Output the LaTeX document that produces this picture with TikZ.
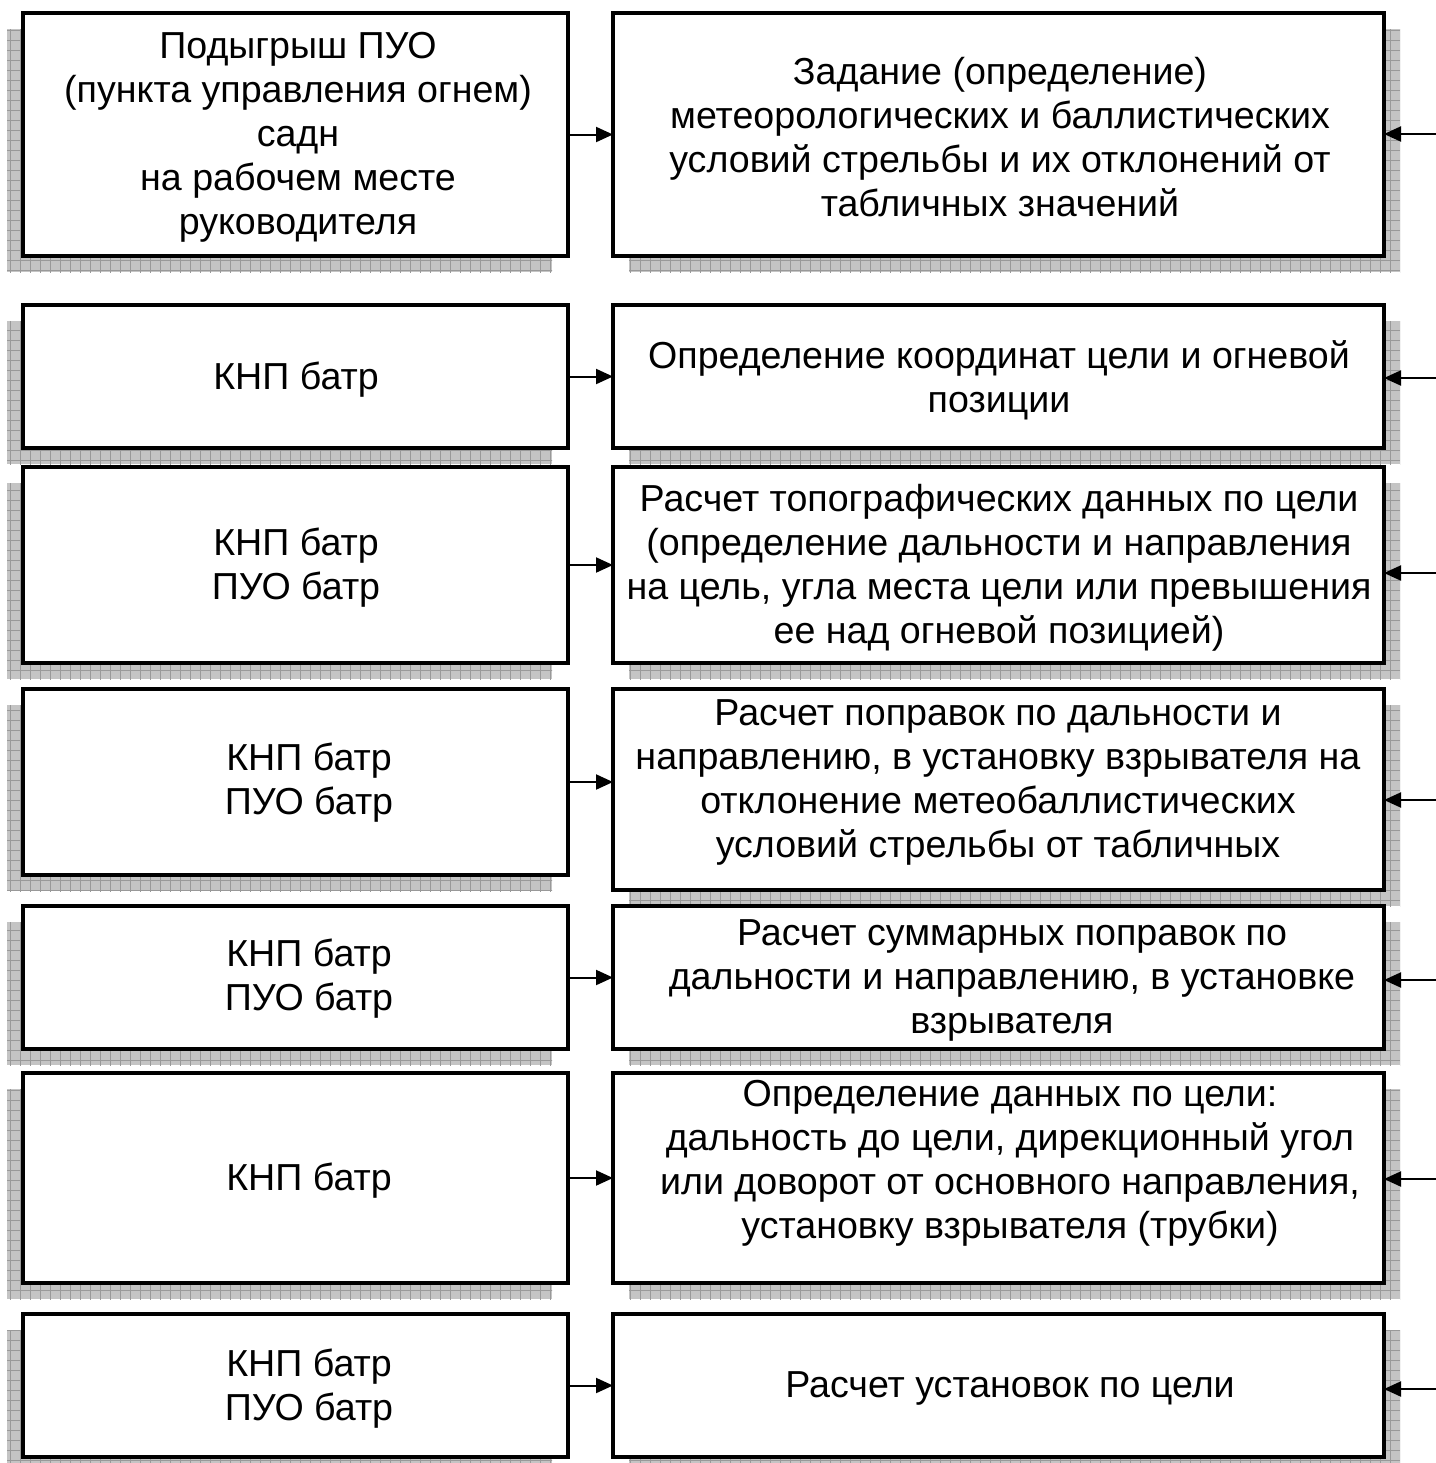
\documentclass[tikz,border=0pt]{standalone}
\usepackage{fontspec}
\setmainfont{Liberation Sans}
\usetikzlibrary{arrows.meta}
\tikzset{
  boxst/.style={draw=black, line width=1.75pt, fill=white, rectangle, inner sep=0pt, outer sep=0pt},
  txt/.style={align=center, font=\fontsize{18.8}{22}\selectfont, inner sep=0pt},
  shadowfill/.style={fill=black!23},
  gridc/.style={draw=black!40, line width=0.4pt},
  conn/.style={line width=1pt, -{Triangle[length=8.5pt,width=7.5pt]}}
}
% name, x1, y1, x2, y2, shadow dx
\newcommand\mkbox[6]{%
  \begin{scope}
    \clip ({#2+#6},{#3+16}) rectangle ({#4+#6},{#5+16});
    \fill[shadowfill] ({#2+#6},{#3+16}) rectangle ({#4+#6},{#5+16});
    \draw[gridc, step=5pt] (0,0) grid (1440,1470);
  \end{scope}
  \node[boxst, minimum width={(#4-#2)*0.5pt}, minimum height={(#5-#3)*0.5pt}] (#1) at ({(#2+#4)/2},{(#3+#5)/2}) {};
}
\begin{document}
\begin{tikzpicture}[x=0.5pt, y=-0.5pt]
\useasboundingbox (0,0) rectangle (1436,1463);
\mkbox{L1}{23}{13}{568}{256}{-16}
\mkbox{R1}{613}{13}{1384}{256}{16}
\mkbox{L2}{23}{305}{568}{448}{-16}
\mkbox{R2}{613}{305}{1384}{448}{16}
\mkbox{L3}{23}{467}{568}{663}{-16}
\mkbox{R3}{613}{467}{1384}{663}{16}
\mkbox{L4}{23}{689}{568}{875}{-16}
\mkbox{R4}{613}{689}{1384}{890}{16}
\mkbox{L5}{23}{906}{568}{1049}{-16}
\mkbox{R5}{613}{906}{1384}{1049}{16}
\mkbox{L6}{23}{1073}{568}{1283}{-16}
\mkbox{R6}{613}{1073}{1384}{1283}{16}
\mkbox{L7}{23}{1314}{568}{1457}{-16}
\mkbox{R7}{613}{1314}{1384}{1457}{16}
% texts
\node[txt] (tL1) at (298,137) {Подыгрыш ПУО\\(пункта управления огнем)\\садн\\ на рабочем месте\\руководителя};
\node[txt] (tR1) at (1000,137) {Задание (определение)\\метеорологических и баллистических\\условий стрельбы и их отклонений от\\табличных значений};
\node[txt] (tL2) at (296,380) {КНП батр};
\node[txt] (tR2) at (999,380) {Определение координат цели и огневой\\позиции};
\node[txt] (tL3) at (296,568) {КНП батр\\ПУО батр};
\node[txt] (tR3) at (999,568) {Расчет топографических данных по цели\\(определение дальности и направления\\на цель, угла места цели или превышения\\ее над огневой позицией)};
\node[txt] (tL4) at (309,783) {КНП батр\\ПУО батр};
\node[txt] (tR4) at (998,782) {Расчет поправок по дальности и\\направлению, в установку взрывателя на\\отклонение метеобаллистических\\условий стрельбы от табличных};
\node[txt] (tL5) at (309,979) {КНП батр\\ПУО батр};
\node[txt] (tR5) at (1012,980) {Расчет суммарных поправок по\\дальности и направлению, в установке\\взрывателя};
\node[txt] (tL6) at (309,1181) {КНП батр};
\node[txt] (tR6) at (1010,1163) {Определение данных по цели:\\дальность до цели, дирекционный угол\\или доворот от основного направления,\\установку взрывателя (трубки)};
\node[txt] (tL7) at (309,1389) {КНП батр\\ПУО батр};
\node[txt] (tR7) at (1010,1388) {Расчет установок по цели};
% left-to-right connectors
\foreach \i in {1,...,7} {
  \draw[conn] (L\i.east) -- (L\i.east -| R\i.west);
}
% incoming connectors from the right edge
\coordinate (in1) at (1436,134);
\coordinate (in2) at (1436,378);
\coordinate (in3) at (1436,573);
\coordinate (in4) at (1436,800);
\coordinate (in5) at (1436,980);
\coordinate (in6) at (1436,1179);
\coordinate (in7) at (1436,1389);
\foreach \i in {1,...,7} {
  \draw[conn] (in\i) -- (in\i -| R\i.east);
}
\end{tikzpicture}
\end{document}
